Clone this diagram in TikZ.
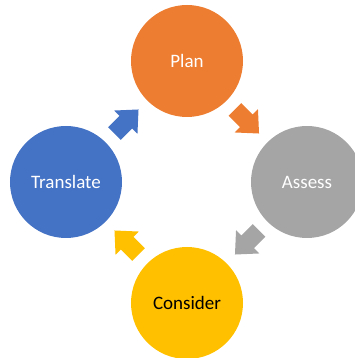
\documentclass[tikz,border=0pt]{standalone}
\usepackage{fontspec}
\setmainfont{Carlito}
\usetikzlibrary{calc,positioning}
\definecolor{planColor}{HTML}{ED7D31}
\definecolor{assessColor}{HTML}{A5A5A5}
\definecolor{considerColor}{HTML}{FFC000}
\definecolor{translateColor}{HTML}{4472C4}
\tikzset{
	stage/.style={circle, minimum size=112pt, inner sep=0, outer sep=0,
		font=\fontsize{19}{22}\selectfont, text=white},
	pics/blockarrow/.style={code={
			\fill[#1] (-17,-9) -- (-1,-9) -- (-1,-16.5) -- (17,0)
			-- (-1,16.5) -- (-1,9) -- (-17,9) -- cycle;}}
}
\begin{document}
\begin{tikzpicture}[x=1pt, y=1pt]
	\useasboundingbox (-187,-176) rectangle (167,182);
	\node[stage, fill=planColor] (plan) at (0, 121) {Plan};
	\node[stage, fill=assessColor] (assess) at (120, 0) {Assess};
	\node[stage, fill=considerColor, text=black] (consider) at (0, -121) {Consider};
	\node[stage, fill=translateColor] (translate) at (-121, 0) {Translate};
	
	\pic[rotate=-45] at ($(plan)!0.5!(assess)$) {blockarrow=planColor};
	\pic[rotate=-135] at ($(assess)!0.5!(consider)$) {blockarrow=assessColor};
	\pic[rotate=135] at ($(consider)!0.5!(translate)$) {blockarrow=considerColor};
	\pic[rotate=45] at ($(translate)!0.5!(plan)$) {blockarrow=translateColor};
\end{tikzpicture}
\end{document}
